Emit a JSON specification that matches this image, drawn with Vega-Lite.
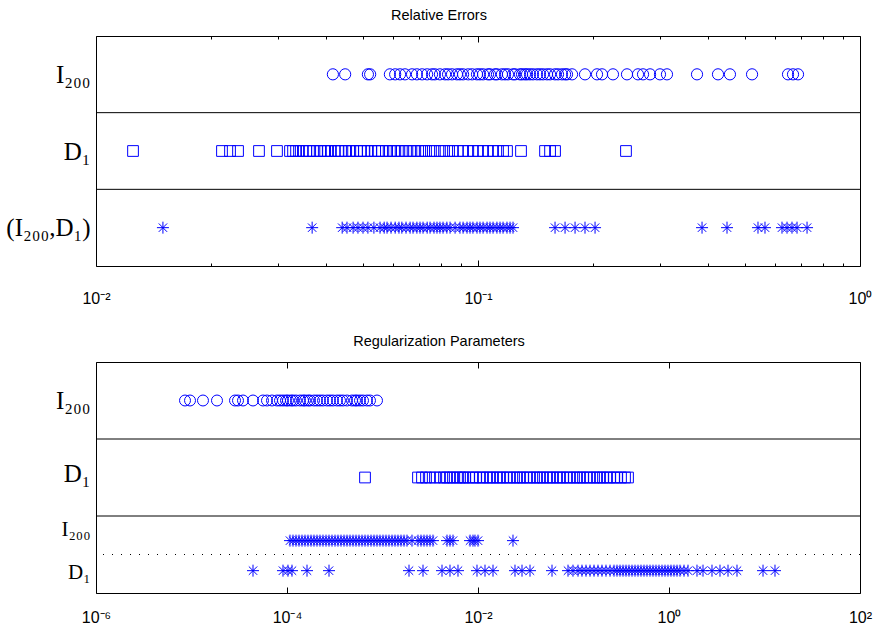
{
  "$schema": "https://vega.github.io/schema/vega-lite/v6.json",
  "padding": {"left": 5, "top": 7, "right": 5, "bottom": 5},
  "background": "white",
  "config": {
    "view": {"stroke": "black", "strokeWidth": 1},
    "axis": {"grid": false, "domain": false, "labelColor": "black", "tickColor": "black", "tickWidth": 1},
    "title": {"font": "Liberation Sans", "fontSize": 14.5, "fontWeight": "normal", "color": "black", "offset": 12}
  },
  "datasets": {
    "re_I": [{"v":0.0417},{"v":0.0449},{"v":0.0515},{"v":0.0522},{"v":0.0588},{"v":0.0607},{"v":0.0625},{"v":0.0644},{"v":0.0672},{"v":0.0692},{"v":0.0714},{"v":0.0736},{"v":0.0758},{"v":0.0771},{"v":0.0795},{"v":0.0820},{"v":0.0835},{"v":0.0855},{"v":0.0881},{"v":0.0897},{"v":0.0914},{"v":0.0943},{"v":0.0965},{"v":0.0994},{"v":0.1012},{"v":0.1031},{"v":0.1062},{"v":0.1075},{"v":0.1108},{"v":0.1121},{"v":0.1155},{"v":0.1177},{"v":0.1198},{"v":0.1235},{"v":0.1250},{"v":0.1288},{"v":0.1304},{"v":0.1327},{"v":0.1344},{"v":0.1368},{"v":0.1393},{"v":0.1427},{"v":0.1453},{"v":0.1480},{"v":0.1516},{"v":0.1544},{"v":0.1591},{"v":0.1620},{"v":0.1659},{"v":0.1690},{"v":0.1710},{"v":0.1763},{"v":0.1906},{"v":0.2049},{"v":0.2112},{"v":0.2256},{"v":0.2455},{"v":0.2623},{"v":0.2704},{"v":0.2821},{"v":0.2995},{"v":0.3124},{"v":0.3744},{"v":0.4249},{"v":0.4566},{"v":0.5217},{"v":0.6480},{"v":0.6678},{"v":0.6882}],
    "re_D": [{"v":0.0125},{"v":0.02137},{"v":0.02243},{"v":0.02354},{"v":0.02671},{"v":0.02977},{"v":0.0322},{"v":0.0328},{"v":0.0334},{"v":0.0340},{"v":0.0348},{"v":0.0355},{"v":0.0361},{"v":0.0370},{"v":0.0379},{"v":0.0388},{"v":0.0398},{"v":0.0405},{"v":0.0412},{"v":0.0422},{"v":0.0430},{"v":0.0438},{"v":0.0449},{"v":0.0460},{"v":0.0471},{"v":0.0482},{"v":0.0494},{"v":0.0503},{"v":0.0515},{"v":0.0525},{"v":0.0538},{"v":0.0547},{"v":0.0561},{"v":0.0574},{"v":0.0588},{"v":0.0603},{"v":0.0617},{"v":0.0632},{"v":0.0648},{"v":0.0664},{"v":0.0680},{"v":0.0697},{"v":0.0714},{"v":0.0731},{"v":0.0753},{"v":0.0771},{"v":0.0795},{"v":0.0815},{"v":0.0840},{"v":0.0860},{"v":0.0886},{"v":0.0914},{"v":0.0943},{"v":0.0970},{"v":0.1000},{"v":0.1031},{"v":0.1062},{"v":0.1095},{"v":0.1128},{"v":0.1163},{"v":0.1191},{"v":0.1296},{"v":0.1498},{"v":0.1544},{"v":0.1591},{"v":0.2440}],
    "re_ID": [{"v":0.01497},{"v":0.0368},{"v":0.0441},{"v":0.0454},{"v":0.0471},{"v":0.0485},{"v":0.0500},{"v":0.0515},{"v":0.0534},{"v":0.0554},{"v":0.0568},{"v":0.0578},{"v":0.0592},{"v":0.0607},{"v":0.0621},{"v":0.0632},{"v":0.0648},{"v":0.0664},{"v":0.0676},{"v":0.0692},{"v":0.0705},{"v":0.0718},{"v":0.0736},{"v":0.0749},{"v":0.0767},{"v":0.0781},{"v":0.0795},{"v":0.0810},{"v":0.0829},{"v":0.0845},{"v":0.0871},{"v":0.0897},{"v":0.0914},{"v":0.0936},{"v":0.0953},{"v":0.0970},{"v":0.0994},{"v":0.1012},{"v":0.1031},{"v":0.1056},{"v":0.1075},{"v":0.1095},{"v":0.1121},{"v":0.1142},{"v":0.1163},{"v":0.1191},{"v":0.1213},{"v":0.1235},{"v":0.1591},{"v":0.1690},{"v":0.1795},{"v":0.1906},{"v":0.2025},{"v":0.3859},{"v":0.4486},{"v":0.5407},{"v":0.5640},{"v":0.6249},{"v":0.6441},{"v":0.6637},{"v":0.6841},{"v":0.7267}],
    "rp_I": [{"v":8.55e-6},{"v":9.65e-6},{"v":1.319e-5},{"v":1.849e-5},{"v":2.855e-5},{"v":3.068e-5},{"v":3.462e-5},{"v":4.406e-5},{"v":5.607e-5},{"v":6.173e-5},{"v":6.966e-5},{"v":7.859e-5},{"v":8.448e-5},{"v":9.08e-5},{"v":9.76e-5},{"v":1.024e-4},{"v":1.101e-4},{"v":1.156e-4},{"v":1.242e-4},{"v":1.368e-4},{"v":1.471e-4},{"v":1.543e-4},{"v":1.659e-4},{"v":1.741e-4},{"v":1.917e-4},{"v":2.061e-4},{"v":2.215e-4},{"v":2.382e-4},{"v":2.623e-4},{"v":2.82e-4},{"v":3.031e-4},{"v":3.339e-4},{"v":3.589e-4},{"v":3.858e-4},{"v":4.249e-4},{"v":4.794e-4},{"v":5.152e-4},{"v":5.408e-4},{"v":5.813e-4},{"v":6.249e-4},{"v":6.88e-4},{"v":7.396e-4},{"v":8.759e-4}],
    "rp_D": [{"v":6.56e-4},{"v":2.353e-3},{"v":2.592e-3},{"v":2.855e-3},{"v":3.143e-3},{"v":3.546e-3},{"v":4.0e-3},{"v":4.406e-3},{"v":4.736e-3},{"v":5.091e-3},{"v":5.473e-3},{"v":6.027e-3},{"v":6.479e-3},{"v":6.966e-3},{"v":7.309e-3},{"v":8.05e-3},{"v":8.86e-3},{"v":9.53e-3},{"v":1.049e-2},{"v":1.128e-2},{"v":1.242e-2},{"v":1.336e-2},{"v":1.436e-2},{"v":1.581e-2},{"v":1.7e-2},{"v":1.827e-2},{"v":2.012e-2},{"v":2.163e-2},{"v":2.382e-2},{"v":2.561e-2},{"v":2.753e-2},{"v":2.96e-2},{"v":3.26e-2},{"v":3.504e-2},{"v":3.858e-2},{"v":4.148e-2},{"v":4.459e-2},{"v":4.794e-2},{"v":5.279e-2},{"v":5.675e-2},{"v":6.101e-2},{"v":6.718e-2},{"v":7.222e-2},{"v":7.765e-2},{"v":8.55e-2},{"v":9.19e-2},{"v":0.1012},{"v":0.1088},{"v":0.117},{"v":0.1258},{"v":0.1385},{"v":0.1489},{"v":0.164},{"v":0.1763},{"v":0.1895},{"v":0.2037},{"v":0.2243},{"v":0.2412},{"v":0.2656},{"v":0.2855},{"v":0.3143},{"v":0.3462},{"v":0.3722}],
    "rp_Is": [{"v":1.075e-4},{"v":1.156e-4},{"v":1.242e-4},{"v":1.336e-4},{"v":1.436e-4},{"v":1.543e-4},{"v":1.659e-4},{"v":1.784e-4},{"v":1.917e-4},{"v":2.061e-4},{"v":2.215e-4},{"v":2.382e-4},{"v":2.561e-4},{"v":2.753e-4},{"v":2.96e-4},{"v":3.182e-4},{"v":3.42e-4},{"v":3.677e-4},{"v":3.953e-4},{"v":4.249e-4},{"v":4.568e-4},{"v":4.911e-4},{"v":5.279e-4},{"v":5.675e-4},{"v":6.101e-4},{"v":6.56e-4},{"v":7.05e-4},{"v":7.58e-4},{"v":8.15e-4},{"v":8.76e-4},{"v":9.41e-4},{"v":1.012e-3},{"v":1.088e-3},{"v":1.17e-3},{"v":1.258e-3},{"v":1.352e-3},{"v":1.453e-3},{"v":1.562e-3},{"v":1.68e-3},{"v":1.805e-3},{"v":2.037e-3},{"v":2.353e-3},{"v":2.53e-3},{"v":2.72e-3},{"v":2.924e-3},{"v":3.143e-3},{"v":3.379e-3},{"v":4.736e-3},{"v":5.091e-3},{"v":5.473e-3},{"v":8.25e-3},{"v":8.86e-3},{"v":9.3e-3},{"v":1.0e-2},{"v":2.325e-2}],
    "rp_Ds": [{"v":4.406e-5},{"v":9.08e-5},{"v":1.024e-4},{"v":1.128e-4},{"v":1.62e-4},{"v":2.753e-4},{"v":1.895e-3},{"v":2.656e-3},{"v":4.198e-3},{"v":5.091e-3},{"v":6.173e-3},{"v":9.76e-3},{"v":1.184e-2},{"v":1.436e-2},{"v":2.44e-2},{"v":2.889e-2},{"v":3.504e-2},{"v":5.956e-2},{"v":8.76e-2},{"v":9.88e-2},{"v":0.1115},{"v":0.1227},{"v":0.1352},{"v":0.1489},{"v":0.164},{"v":0.1805},{"v":0.1988},{"v":0.2189},{"v":0.2412},{"v":0.2656},{"v":0.2855},{"v":0.3069},{"v":0.3299},{"v":0.3546},{"v":0.3813},{"v":0.4099},{"v":0.4406},{"v":0.4736},{"v":0.5091},{"v":0.5473},{"v":0.5883},{"v":0.6324},{"v":0.6799},{"v":0.7309},{"v":0.7858},{"v":0.8448},{"v":0.9081},{"v":0.9761},{"v":1.049},{"v":1.128},{"v":1.213},{"v":1.304},{"v":1.436},{"v":1.581},{"v":1.964},{"v":2.27},{"v":2.82},{"v":3.42},{"v":4.148},{"v":5.152},{"v":9.65},{"v":12.88}]
  },
  "vconcat": [
    {
      "title": {"text": "Relative Errors", "fontSize": 14.5, "dx": -39},
      "width": 764,
      "height": 230,
      "layer": [
        {
          "data": {"name": "re_I"},
          "mark": {"type": "point", "shape": "circle", "filled": false, "color": "#0000ff", "size": 125, "strokeWidth": 1, "opacity": 1},
          "encoding": {
            "x": {"field": "v", "type": "quantitative", "scale": {"type": "log", "domain": [0.01, 1], "nice": false},
              "axis": {"orient": "bottom", "title": null, "values": [0.01,0.02,0.03,0.04,0.05,0.06,0.07,0.08,0.09,0.1,0.2,0.3,0.4,0.5,0.6,0.7,0.8,0.9,1],
                "labelExpr": "datum.value == 0.01 ? '10⁻²' : datum.value == 0.1 ? '10⁻¹' : datum.value == 1 ? '10⁰' : ''",
                "tickSize": {"condition": {"test": "datum.value == 0.01 || datum.value == 0.1 || datum.value == 1", "value": -6}, "value": -3},
                "labelPadding": 30, "labelFont": "Liberation Sans", "labelFontSize": 16, "labelOverlap": false, "labelFlush": false}},
            "y": {"datum": 2.5, "type": "quantitative", "scale": {"domain": [0, 3], "nice": false, "zero": false},
              "axis": {"title": null, "values": [0.5, 1.5, 2.5], "ticks": false, "labelPadding": 6,
                "labelExpr": "datum.value == 2.5 ? 'I₂₀₀' : datum.value == 1.5 ? 'D₁' : '(I₂₀₀,D₁)'",
                "labelFont": "Liberation Serif, DejaVu Serif", "labelFontSize": 25, "labelBaseline": "middle"}}
          }
        },
        {
          "data": {"name": "re_D"},
          "mark": {"type": "point", "shape": "square", "filled": false, "color": "#0000ff", "size": 115, "strokeWidth": 1, "opacity": 1},
          "encoding": {
            "x": {"field": "v", "type": "quantitative",
              "axis": {"orient": "top", "title": null, "labels": false, "values": [0.01,0.02,0.03,0.04,0.05,0.06,0.07,0.08,0.09,0.1,0.2,0.3,0.4,0.5,0.6,0.7,0.8,0.9,1],
                "tickSize": {"condition": {"test": "datum.value == 0.01 || datum.value == 0.1 || datum.value == 1", "value": -6}, "value": -3}}},
            "y": {"datum": 1.5, "type": "quantitative"}
          }
        },
        {
          "data": {"name": "re_ID"},
          "mark": {"type": "point", "shape": "M-1,0L1,0M0,-1L0,1M-0.7,-0.7L0.7,0.7M-0.7,0.7L0.7,-0.7", "filled": false, "color": "#0000ff", "size": 144, "strokeWidth": 1, "opacity": 1},
          "encoding": {
            "x": {"field": "v", "type": "quantitative", "axis": null},
            "y": {"datum": 0.5, "type": "quantitative"}
          }
        },
        {
          "data": {"values": [{}]},
          "mark": {"type": "rule", "color": "black", "strokeWidth": 1},
          "encoding": {"y": {"datum": 1, "type": "quantitative"}}
        },
        {
          "data": {"values": [{}]},
          "mark": {"type": "rule", "color": "black", "strokeWidth": 1},
          "encoding": {"y": {"datum": 2, "type": "quantitative"}}
        }
      ],
      "resolve": {"axis": {"x": "independent"}}
    },
    {
      "title": {"text": "Regularization Parameters", "fontSize": 14.5, "dx": -39},
      "width": 764,
      "height": 231,
      "layer": [
        {
          "data": {"name": "rp_I"},
          "mark": {"type": "point", "shape": "circle", "filled": false, "color": "#0000ff", "size": 120, "strokeWidth": 1, "opacity": 1},
          "encoding": {
            "x": {"field": "v", "type": "quantitative", "scale": {"type": "log", "domain": [1e-6, 100], "nice": false},
              "axis": {"orient": "bottom", "title": null, "values": [1e-6, 1e-4, 1e-2, 1, 100],
                "labelExpr": "datum.value < 1e-5 ? '10⁻⁶' : datum.value < 1e-3 ? '10⁻⁴' : datum.value < 0.1 ? '10⁻²' : datum.value < 10 ? '10⁰' : '10²'",
                "tickSize": -6, "labelPadding": 22, "labelFont": "Liberation Sans", "labelFontSize": 16, "labelOverlap": false, "labelFlush": false}},
            "y": {"datum": 2.5, "type": "quantitative", "scale": {"domain": [0, 3], "nice": false, "zero": false},
              "axis": {"title": null, "values": [0.26, 0.83, 1.55, 2.5], "ticks": false, "labelPadding": 6,
                "labelExpr": "datum.value == 2.5 ? 'I₂₀₀' : datum.value == 1.55 ? 'D₁' : datum.value == 0.83 ? 'I₂₀₀' : 'D₁'",
                "labelFont": "Liberation Serif, DejaVu Serif",
                "labelFontSize": {"condition": {"test": "datum.value < 1", "value": 21}, "value": 25},
                "labelBaseline": "middle"}}
          }
        },
        {
          "data": {"name": "rp_D"},
          "mark": {"type": "point", "shape": "square", "filled": false, "color": "#0000ff", "size": 115, "strokeWidth": 1, "opacity": 1},
          "encoding": {
            "x": {"field": "v", "type": "quantitative",
              "axis": {"orient": "top", "title": null, "labels": false, "values": [1e-6, 1e-4, 1e-2, 1, 100], "tickSize": -6}},
            "y": {"datum": 1.5, "type": "quantitative"}
          }
        },
        {
          "data": {"name": "rp_Is"},
          "mark": {"type": "point", "shape": "M-1,0L1,0M0,-1L0,1M-0.7,-0.7L0.7,0.7M-0.7,0.7L0.7,-0.7", "filled": false, "color": "#0000ff", "size": 144, "strokeWidth": 1, "opacity": 1},
          "encoding": {
            "x": {"field": "v", "type": "quantitative", "axis": null},
            "y": {"datum": 0.68, "type": "quantitative"}
          }
        },
        {
          "data": {"name": "rp_Ds"},
          "mark": {"type": "point", "shape": "M-1,0L1,0M0,-1L0,1M-0.7,-0.7L0.7,0.7M-0.7,0.7L0.7,-0.7", "filled": false, "color": "#0000ff", "size": 144, "strokeWidth": 1, "opacity": 1},
          "encoding": {
            "x": {"field": "v", "type": "quantitative", "axis": null},
            "y": {"datum": 0.29, "type": "quantitative"}
          }
        },
        {
          "data": {"values": [{}]},
          "mark": {"type": "rule", "color": "black", "strokeWidth": 1},
          "encoding": {"y": {"datum": 1, "type": "quantitative"}}
        },
        {
          "data": {"values": [{}]},
          "mark": {"type": "rule", "color": "black", "strokeWidth": 1},
          "encoding": {"y": {"datum": 2, "type": "quantitative"}}
        },
        {
          "data": {"values": [{}]},
          "mark": {"type": "rule", "color": "black", "strokeWidth": 1, "strokeDash": [1, 8]},
          "encoding": {"y": {"datum": 0.5, "type": "quantitative"}}
        }
      ],
      "resolve": {"axis": {"x": "independent"}}
    }
  ],
  "spacing": 23
}
